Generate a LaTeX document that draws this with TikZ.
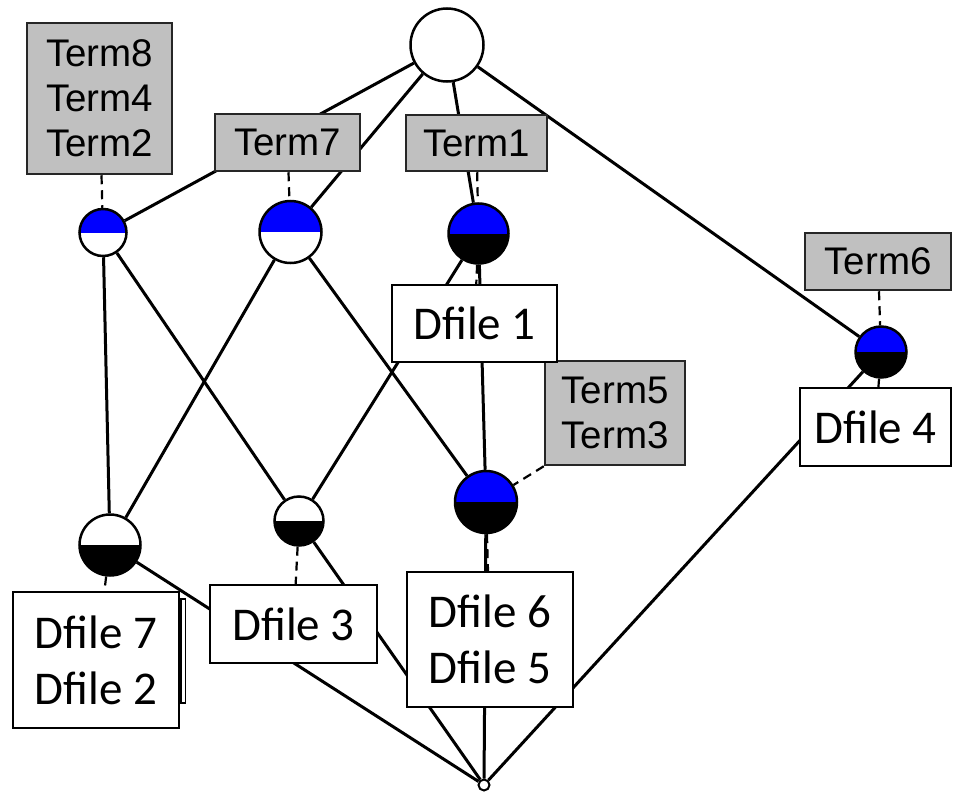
\documentclass[tikz,border=0pt]{standalone}
\usepackage{fontspec}
\setmainfont{Carlito}
\newfontfamily\termfont{Liberation Sans}

\definecolor{termgray}{RGB}{192,192,192}
\definecolor{conceptblue}{RGB}{0,0,255}

\tikzset{
	concept/.style 2 args={circle, draw, line width=2.5pt, inner sep=0pt,
		path picture={
			\fill[#1] (path picture bounding box.north west) rectangle (path picture bounding box.east);
			\fill[#2] (path picture bounding box.west) rectangle (path picture bounding box.south east);
		}},
	termbox/.style={draw=black!85, fill=termgray, line width=2.5pt, inner sep=0pt, align=center,
		font=\termfont\fontsize{38.5}{45}\selectfont},
	filebox/.style={draw, fill=white, line width=2pt, inner sep=0pt, align=center,
		font=\fontsize{47}{56}\selectfont},
	lattice/.style={line width=3pt},
	labelline/.style={line width=2.2pt, dash pattern=on 9pt off 6pt},
}

\begin{document}
\begin{tikzpicture}[x=1pt, y=-1pt]
		%%%%% START %%%%%
		\useasboundingbox (0,0) rectangle (953,792);
		
		% concepts
		\node[circle, draw, fill=white, line width=2.5pt, minimum size=73pt] (top) at (447,45) {};
		\node[concept={conceptblue}{white}, minimum size=47pt] (A) at (103,232.5) {};
		\node[concept={conceptblue}{white}, minimum size=62pt] (B) at (290.5,232) {};
		\node[concept={conceptblue}{black}, minimum size=60pt] (C) at (478.5,233.5) {};
		\node[concept={conceptblue}{black}, minimum size=51pt] (D) at (881,352) {};
		\node[concept={conceptblue}{black}, minimum size=62pt] (E) at (486,502) {};
		\node[concept={white}{black}, minimum size=61pt] (F) at (110,545) {};
		\node[concept={white}{black}, minimum size=49pt] (G) at (299,521) {};
		\node[circle, draw, fill=white, line width=2pt, inner sep=0pt, minimum size=11pt] (bottom) at (484,785) {};
		
		% order relation
		\draw[lattice] (top) -- (A);
		\draw[lattice] (top) -- (B);
		\draw[lattice] (top) -- (C);
		\draw[lattice] (top) -- (D);
		\draw[lattice] (A) -- (F);
		\draw[lattice] (A) -- (G);
		\draw[lattice] (B) -- (F);
		\draw[lattice] (B) -- (E);
		\draw[lattice] (C) -- (G);
		\draw[lattice] (C) -- (E);
		\draw[lattice] (F) -- (bottom);
		\draw[lattice] (G) -- (bottom);
		\draw[lattice] (E) -- (bottom);
		\draw[lattice] (D) -- (bottom);
		
		% attribute labels
		\node[termbox, minimum width=145pt, minimum height=151pt] (t842) at (99.5,98.5) {Term8\\Term4\\Term2};
		\node[termbox, minimum width=145pt, minimum height=57pt] (t7) at (287.5,142.5) {Term7};
		\node[termbox, minimum width=141pt, minimum height=56pt] (t1) at (476.5,143) {Term1};
		\node[termbox, minimum width=146pt, minimum height=57pt] (t6) at (878,261.5) {Term6};
		\node[termbox, minimum width=140pt, minimum height=104pt] (t53) at (615,413) {Term5\\Term3};
		
		% object labels
		\draw[line width=1.5pt] (181,599) rectangle (185.5,703);
		\node[filebox, minimum width=166pt, minimum height=136pt] (d72) at (96,660) {Dfile 7\\Dfile 2};
		\node[filebox, minimum width=165pt, minimum height=77pt] (d1) at (474.5,323.5) {Dfile 1};
		\node[filebox, minimum width=151pt, minimum height=78pt] (d4) at (875.5,427) {Dfile 4};
		\node[filebox, minimum width=167pt, minimum height=78pt] (d3) at (293.5,624) {Dfile 3};
		\node[filebox, minimum width=166pt, minimum height=135pt] (d65) at (490,639.5) {Dfile 6\\Dfile 5};
		
		% label connectors
		\draw[labelline] (t842) -- (A);
		\draw[labelline] (t7) -- (B);
		\draw[labelline] (t1) -- (C);
		\draw[labelline] (t6) -- (D);
		\draw[labelline] (t53.south west) -- (E);
		\draw[labelline] (C) -- (d1);
		\draw[labelline] (D) -- (d4);
		\draw[labelline] (E) -- (d65);
		\draw[labelline] (F) -- (d72);
		\draw[labelline] (G) -- (d3);
		%%%%% END %%%%%
\end{tikzpicture}
\end{document}
